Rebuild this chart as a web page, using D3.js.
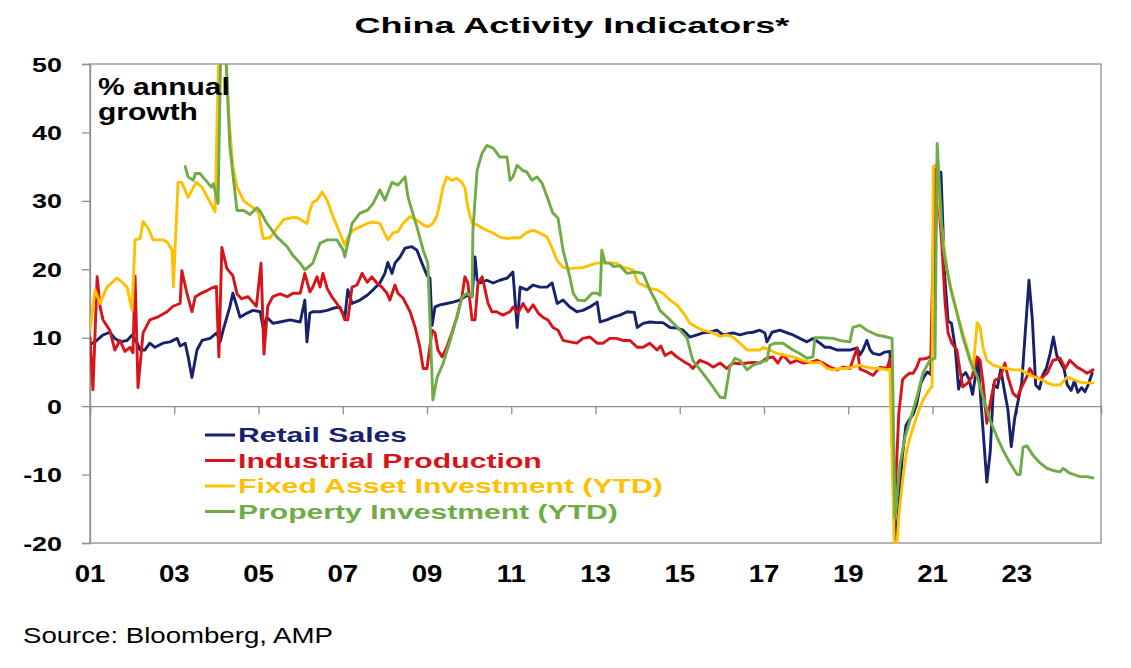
<!DOCTYPE html>
<html>
<head>
<meta charset="utf-8">
<script src="https://cdn.jsdelivr.net/npm/d3@7"></script>
<style>
  html, body { margin: 0; padding: 0; background: #ffffff; }
  svg { display: block; }
  text { font-family: "Liberation Sans", Arial, sans-serif; }
</style>
</head>
<body>
<svg id="chart" width="1131" height="668"></svg>
<script>
// ---------- DATA (decimal year, % annual growth) ----------
const seriesNames = ["Retail Sales", "Industrial Production", "Fixed Asset Investment (YTD)", "Property Investment (YTD)"];
const yTickValues = [-20, -10, 0, 10, 20, 30, 40, 50];
const yTickLabels = ["-20", "-10", "0", "10", "20", "30", "40", "50"];
const xTickYears = [2001, 2003, 2005, 2007, 2009, 2011, 2013, 2015, 2017, 2019, 2021, 2023];
const xTickLabels = ["01", "03", "05", "07", "09", "11", "13", "15", "17", "19", "21", "23"];

const retailSales = [
[2001.00,9.0],[2001.12,9.4],[2001.31,10.4],[2001.47,10.8],[2001.59,9.9],[2001.71,9.4],[2001.88,9.6],[2002.00,10.4],[2002.12,9.2],[2002.19,8.2],[2002.30,8.2],[2002.42,9.2],[2002.54,8.6],[2002.73,9.2],[2002.90,9.4],[2003.07,9.9],[2003.14,8.8],[2003.26,9.2],[2003.33,7.2],[2003.42,4.2],[2003.54,8.2],[2003.66,9.6],[2003.85,9.9],[2004.01,10.7],[2004.09,9.4],[2004.16,11.1],[2004.32,14.5],[2004.39,16.5],[2004.49,14.5],[2004.56,13.0],[2004.73,13.6],[2004.87,14.0],[2005.04,13.8],[2005.11,11.5],[2005.20,13.0],[2005.34,12.1],[2005.51,12.3],[2005.75,12.6],[2005.99,12.3],
[2006.10,15.5],[2006.15,9.4],[2006.22,13.6],[2006.29,13.8],[2006.46,13.8],[2006.63,14.0],[2006.77,14.3],[2006.93,14.5],[2007.05,12.9],[2007.12,17.0],[2007.22,15.0],[2007.41,15.5],[2007.58,16.2],[2007.72,17.0],[2007.88,18.0],[2008.00,19.4],[2008.07,21.0],[2008.17,19.4],[2008.24,20.9],[2008.36,21.8],[2008.48,23.1],[2008.64,23.3],[2008.76,22.8],[2008.88,20.9],[2009.00,19.1],[2009.07,18.7],[2009.12,11.8],[2009.19,14.5],[2009.31,14.8],[2009.47,15.0],[2009.62,15.2],[2009.78,15.5],[2009.95,16.2],[2010.07,16.0],[2010.14,21.8],[2010.19,18.4],[2010.26,18.0],[2010.42,18.4],[2010.57,18.0],[2010.73,18.4],[2010.90,18.7],[2011.04,19.6],[2011.14,11.5],[2011.21,17.4],[2011.37,17.0],[2011.52,17.7],[2011.68,17.4],[2011.85,17.4],[2011.97,18.0],[2012.09,15.0],[2012.23,15.5],[2012.39,14.5],[2012.56,13.8],[2012.70,14.0],[2012.87,14.5],[2013.04,15.2],[2013.11,12.3],[2013.27,12.6],[2013.42,13.0],[2013.58,13.3],[2013.75,13.8],[2013.92,13.7],[2013.99,11.5],[2014.13,12.1],[2014.29,12.3],[2014.46,12.2],[2014.60,12.2],[2014.77,11.5],[2014.93,11.4],[2015.08,11.1],[2015.24,10.1],[2015.41,10.4],[2015.55,10.7],[2015.72,10.8],[2015.88,11.1],[2016.03,10.4],[2016.26,10.7],[2016.43,10.4],[2016.60,10.7],[2016.74,10.8],[2016.90,11.1],[2017.02,10.7],[2017.07,9.4],[2017.19,10.8],[2017.38,11.1],[2017.55,10.7],[2017.69,10.4],[2017.85,9.9],[2018.02,9.4],[2018.16,9.9],[2018.33,9.2],[2018.45,8.6],[2018.57,8.6],[2018.73,8.2],[2018.88,8.2],[2019.04,8.2],[2019.21,8.5],[2019.28,7.5],[2019.35,8.2],[2019.44,9.6],[2019.52,8.2],[2019.59,7.7],[2019.75,7.5],[2019.87,7.9],[2019.99,8.0],
[2020.11,-20.5],[2020.19,-15.8],[2020.28,-7.5],[2020.37,-2.8],[2020.47,-1.8],[2020.55,-1.1],[2020.63,0.5],[2020.72,3.3],[2020.80,4.3],[2020.88,5.0],[2020.96,4.6],[2021.12,33.8],[2021.20,34.2],[2021.29,19.0],[2021.37,12.4],[2021.45,12.1],[2021.54,8.5],[2021.62,2.5],[2021.70,4.4],[2021.79,4.9],[2021.87,3.9],[2021.95,1.7],[2022.08,6.7],[2022.20,-3.5],[2022.29,-11.1],[2022.37,-6.7],[2022.45,3.1],[2022.54,2.7],[2022.62,5.4],[2022.70,2.5],[2022.79,-0.5],[2022.87,-5.9],[2022.95,-1.8],[2023.12,3.5],[2023.20,10.6],[2023.29,18.4],[2023.37,12.7],[2023.45,3.1],[2023.54,2.5],[2023.62,4.6],[2023.70,5.5],[2023.79,7.6],[2023.87,10.1],[2023.95,7.4],[2024.12,5.5],[2024.20,3.1],[2024.29,2.3],[2024.37,3.7],[2024.45,2.0],[2024.54,2.7],[2024.62,2.1],[2024.70,3.2],[2024.79,4.8]
];

const industrialProduction = [
[2001.00,10.0],[2001.07,2.4],[2001.17,18.9],[2001.24,14.5],[2001.31,12.6],[2001.47,11.1],[2001.59,8.2],[2001.71,9.6],[2001.83,8.0],[2001.95,8.6],[2002.02,7.8],[2002.07,19.0],[2002.14,2.7],[2002.26,10.7],[2002.42,12.6],[2002.60,13.0],[2002.83,13.8],[2002.97,14.6],[2003.14,15.0],[2003.18,19.8],[2003.30,16.5],[2003.42,13.8],[2003.50,16.0],[2003.61,16.4],[2003.75,16.8],[2003.90,17.3],[2004.00,17.5],[2004.06,7.2],[2004.13,23.2],[2004.25,20.1],[2004.39,19.1],[2004.49,16.4],[2004.60,15.7],[2004.75,16.0],[2004.95,14.6],[2005.06,20.9],[2005.13,7.6],[2005.22,14.6],[2005.34,16.0],[2005.51,16.4],[2005.68,16.0],[2005.82,16.5],[2005.99,16.5],
[2006.10,19.4],[2006.22,16.7],[2006.29,17.4],[2006.39,18.9],[2006.46,17.4],[2006.53,19.4],[2006.63,17.2],[2006.74,16.0],[2006.86,15.0],[2006.98,13.8],[2007.05,12.6],[2007.12,12.6],[2007.22,17.4],[2007.34,17.7],[2007.46,19.4],[2007.58,18.1],[2007.69,18.9],[2007.81,18.0],[2007.93,17.4],[2008.05,16.5],[2008.12,15.5],[2008.24,17.7],[2008.31,16.5],[2008.43,15.8],[2008.60,13.8],[2008.72,11.5],[2008.83,8.6],[2008.91,5.5],[2009.00,5.5],[2009.12,11.1],[2009.19,10.7],[2009.26,8.2],[2009.36,7.2],[2009.47,8.6],[2009.59,10.7],[2009.71,13.0],[2009.83,16.0],[2009.90,18.9],[2009.97,18.0],[2010.07,12.6],[2010.14,12.6],[2010.21,18.0],[2010.31,18.9],[2010.38,17.0],[2010.45,15.0],[2010.54,13.8],[2010.65,13.8],[2010.80,13.3],[2010.97,13.8],[2011.04,14.5],[2011.16,13.6],[2011.28,15.0],[2011.40,13.8],[2011.52,14.8],[2011.64,13.6],[2011.75,13.0],[2011.87,12.6],[2011.99,11.5],[2012.11,11.1],[2012.23,9.6],[2012.39,9.4],[2012.56,9.2],[2012.70,9.9],[2012.87,10.1],[2013.04,9.2],[2013.18,9.2],[2013.34,9.9],[2013.50,9.9],[2013.65,9.6],[2013.82,9.6],[2013.99,8.6],[2014.13,8.6],[2014.29,9.2],[2014.46,8.2],[2014.55,8.8],[2014.65,7.4],[2014.80,7.9],[2014.93,7.2],[2015.10,6.5],[2015.24,6.0],[2015.31,5.5],[2015.48,6.7],[2015.65,6.3],[2015.79,5.7],[2015.96,6.3],[2016.12,5.5],[2016.26,6.3],[2016.43,6.2],[2016.60,6.3],[2016.74,6.4],[2016.90,6.3],[2017.07,7.0],[2017.21,7.2],[2017.33,6.3],[2017.45,7.5],[2017.62,6.3],[2017.78,6.7],[2017.93,6.3],[2018.09,6.4],[2018.26,6.7],[2018.40,6.3],[2018.57,5.7],[2018.73,5.3],[2018.88,5.7],[2019.04,5.5],[2019.21,8.5],[2019.28,5.4],[2019.44,5.0],[2019.59,4.5],[2019.75,5.7],[2019.92,5.5],[2019.99,6.9],
[2020.11,-13.5],[2020.20,-1.1],[2020.29,3.9],[2020.37,4.4],[2020.45,4.8],[2020.54,4.8],[2020.62,5.6],[2020.70,6.9],[2020.79,6.9],[2020.87,7.0],[2020.96,7.3],[2021.06,35.1],[2021.18,27.2],[2021.23,22.8],[2021.30,15.0],[2021.37,10.7],[2021.46,9.2],[2021.58,8.2],[2021.65,5.3],[2021.72,2.8],[2021.84,3.4],[2021.94,4.3],[2022.06,7.2],[2022.13,6.7],[2022.20,3.4],[2022.29,-2.5],[2022.37,0.4],[2022.48,3.8],[2022.60,4.1],[2022.72,6.3],[2022.79,4.3],[2022.91,1.9],[2023.01,1.3],[2023.12,2.8],[2023.24,4.3],[2023.31,5.5],[2023.43,4.3],[2023.55,4.0],[2023.72,4.8],[2023.86,6.7],[2024.03,7.0],[2024.15,5.5],[2024.26,6.7],[2024.43,5.7],[2024.55,5.3],[2024.67,4.8],[2024.81,5.3]
];

const fixedAssetInvestment = [
[2001.00,11.0],[2001.12,17.0],[2001.24,15.0],[2001.40,17.4],[2001.64,18.7],[2001.71,18.4],[2001.88,17.4],[2002.00,14.0],[2002.07,24.3],[2002.19,24.5],[2002.26,27.0],[2002.38,26.0],[2002.50,24.3],[2002.73,24.3],[2002.83,24.0],[2002.95,22.8],[2002.98,17.4],[2003.09,32.7],[2003.18,32.7],[2003.33,30.5],[2003.52,32.7],[2003.66,32.0],[2003.78,30.6],[2003.97,28.4],[2004.06,53.0],[2004.22,52.0],[2004.30,42.0],[2004.39,35.0],[2004.49,32.0],[2004.65,30.0],[2004.87,29.0],[2005.00,28.3],[2005.11,24.5],[2005.27,24.6],[2005.44,26.0],[2005.60,27.3],[2005.75,27.5],[2005.90,27.6],[2006.15,26.7],[2006.22,28.6],[2006.29,29.8],[2006.39,30.1],[2006.51,31.3],[2006.63,30.1],[2006.77,27.7],[2006.93,25.3],[2007.05,23.5],[2007.12,24.7],[2007.24,25.7],[2007.41,26.2],[2007.58,26.7],[2007.72,26.9],[2007.88,26.7],[2007.96,25.7],[2008.07,24.3],[2008.19,25.3],[2008.31,25.5],[2008.43,26.7],[2008.60,27.7],[2008.76,27.2],[2008.91,26.5],[2009.02,26.2],[2009.14,26.7],[2009.24,27.9],[2009.31,29.8],[2009.38,32.0],[2009.47,33.5],[2009.59,33.0],[2009.71,33.3],[2009.83,32.7],[2009.90,31.9],[2009.97,29.1],[2010.07,26.7],[2010.19,26.5],[2010.26,26.2],[2010.42,25.7],[2010.57,25.3],[2010.73,24.7],[2010.90,24.5],[2011.04,24.6],[2011.21,24.6],[2011.37,25.4],[2011.52,25.7],[2011.68,25.3],[2011.85,24.7],[2011.92,23.8],[2011.99,22.8],[2012.09,21.3],[2012.23,20.3],[2012.39,20.1],[2012.56,20.2],[2012.70,20.2],[2012.87,20.6],[2013.04,20.9],[2013.18,21.0],[2013.34,20.9],[2013.50,20.9],[2013.65,20.3],[2013.89,19.9],[2014.01,18.0],[2014.13,17.7],[2014.29,17.2],[2014.46,17.0],[2014.60,16.5],[2014.77,15.5],[2014.93,14.8],[2015.10,13.5],[2015.24,12.1],[2015.41,11.5],[2015.55,11.1],[2015.79,10.7],[2015.96,10.2],[2016.12,10.4],[2016.26,10.1],[2016.43,9.2],[2016.60,8.2],[2016.90,8.2],[2016.98,8.6],[2017.14,8.2],[2017.31,7.7],[2017.45,7.5],[2017.69,7.2],[2017.93,6.7],[2018.16,6.3],[2018.33,6.4],[2018.50,5.5],[2018.64,5.3],[2018.80,5.5],[2018.97,5.5],[2019.11,5.7],[2019.28,6.0],[2019.44,5.7],[2019.59,5.5],[2019.75,5.5],[2019.92,5.3],[2019.99,5.4],
[2020.11,-24.5],[2020.20,-16.1],[2020.30,-10.3],[2020.39,-6.4],[2020.47,-4.5],[2020.54,-3.1],[2020.62,-1.6],[2020.70,-0.2],[2020.80,1.2],[2020.87,1.9],[2020.99,2.9],[2021.02,35.0],[2021.11,35.0],[2021.18,28.2],[2021.34,19.9],[2021.49,15.9],[2021.65,12.1],[2021.82,8.6],[2021.96,5.3],[2022.06,12.2],[2022.13,11.5],[2022.20,8.6],[2022.29,6.7],[2022.44,6.0],[2022.60,5.7],[2022.77,5.5],[2022.91,5.3],[2023.08,5.3],[2023.24,4.8],[2023.39,4.3],[2023.55,4.0],[2023.72,3.4],[2023.86,3.1],[2024.03,3.1],[2024.19,4.2],[2024.31,4.0],[2024.50,3.5],[2024.67,3.4],[2024.81,3.4]
];

const propertyInvestment = [
[2003.26,35.0],[2003.33,33.5],[2003.45,33.0],[2003.50,34.0],[2003.61,34.0],[2003.75,33.0],[2003.88,32.0],[2003.93,32.5],[2004.04,29.6],[2004.12,58.0],[2004.22,52.0],[2004.32,38.0],[2004.39,34.0],[2004.49,28.6],[2004.65,28.6],[2004.80,28.0],[2004.96,29.0],[2005.04,28.5],[2005.20,26.7],[2005.44,24.7],[2005.51,24.3],[2005.68,23.3],[2005.82,22.0],[2005.99,20.9],[2006.10,19.9],[2006.29,20.9],[2006.46,23.8],[2006.63,24.3],[2006.86,24.3],[2007.01,22.8],[2007.05,21.8],[2007.22,26.7],[2007.41,28.2],[2007.58,28.6],[2007.72,29.6],[2007.88,31.6],[2008.00,30.1],[2008.17,32.7],[2008.31,32.3],[2008.48,33.5],[2008.55,30.5],[2008.76,26.2],[2008.91,22.8],[2009.02,20.9],[2009.14,0.9],[2009.24,4.2],[2009.38,6.2],[2009.55,9.6],[2009.71,13.0],[2009.83,15.9],[2009.95,16.5],[2010.07,16.0],[2010.09,25.7],[2010.19,34.5],[2010.31,37.0],[2010.42,38.1],[2010.57,37.7],[2010.73,36.4],[2010.90,36.4],[2010.97,33.0],[2011.04,33.5],[2011.14,35.2],[2011.26,34.5],[2011.37,34.2],[2011.49,33.0],[2011.61,33.5],[2011.73,32.6],[2011.85,30.6],[2011.99,28.2],[2012.11,27.5],[2012.23,22.8],[2012.39,18.9],[2012.47,16.5],[2012.58,15.5],[2012.75,15.4],[2012.92,16.5],[2013.04,16.5],[2013.11,16.2],[2013.15,22.8],[2013.23,20.9],[2013.34,20.9],[2013.42,20.4],[2013.58,20.5],[2013.75,19.4],[2013.94,19.6],[2014.13,19.4],[2014.29,17.0],[2014.46,15.0],[2014.53,14.0],[2014.77,12.6],[2015.01,11.1],[2015.17,10.0],[2015.31,6.7],[2015.55,4.8],[2015.79,2.8],[2015.96,1.3],[2016.07,1.2],[2016.19,5.7],[2016.31,7.0],[2016.43,6.7],[2016.60,5.3],[2016.74,6.0],[2016.90,6.4],[2017.07,6.7],[2017.14,8.9],[2017.26,9.2],[2017.45,9.2],[2017.69,8.2],[2017.85,7.7],[2018.02,7.0],[2018.16,7.2],[2018.21,10.0],[2018.40,10.0],[2018.64,9.9],[2018.80,9.6],[2019.04,9.4],[2019.11,11.5],[2019.28,11.8],[2019.44,11.1],[2019.68,10.4],[2019.92,10.1],[2020.04,9.9],
[2020.11,-16.3],[2020.23,-8.3],[2020.35,-4.5],[2020.47,-2.0],[2020.63,1.3],[2020.77,4.8],[2020.94,6.7],[2021.06,7.0],[2021.11,38.4],[2021.18,30.6],[2021.25,23.3],[2021.42,17.4],[2021.58,13.6],[2021.72,10.1],[2021.89,6.7],[2022.06,4.3],[2022.20,1.3],[2022.37,-2.1],[2022.53,-4.5],[2022.67,-6.4],[2022.84,-8.3],[2023.01,-10.0],[2023.08,-10.0],[2023.15,-6.0],[2023.24,-5.8],[2023.39,-7.2],[2023.55,-8.3],[2023.72,-9.1],[2023.86,-9.4],[2024.03,-9.6],[2024.10,-9.1],[2024.26,-9.8],[2024.50,-10.3],[2024.67,-10.3],[2024.81,-10.5]
];

const seriesColors = ["#16236B", "#D7141A", "#FFC000", "#6FAC46"];
const seriesData = [retailSales, industrialProduction, fixedAssetInvestment, propertyInvestment];

// ---------- LAYOUT ----------
const svg = d3.select("#chart");
const plotLeft = 90, plotRight = 1101, plotTop = 64, plotBottom = 543;
const x = d3.scaleLinear().domain([2001, 2025]).range([plotLeft, plotRight]);
const y = d3.scaleLinear().domain([-20, 50]).range([plotBottom, plotTop]);
const FONT = '"Liberation Sans", Arial, sans-serif';

// Horizontally widen text glyphs (the reference typeface is wide) by scaling around the anchor point
function widenText(g, px, py, str, opts, targetWidth) {
  const t = g.append("text")
    .attr("x", 0).attr("y", 0)
    .attr("font-family", FONT)
    .attr("font-size", opts.size)
    .attr("font-weight", opts.weight || "normal")
    .attr("fill", opts.fill || "#000")
    .attr("text-anchor", opts.anchor || "start")
    .text(str);
  const w = t.node().getComputedTextLength();
  const f = opts.factor ? opts.factor : targetWidth / w;
  t.attr("transform", `translate(${px},${py}) scale(${f},1)`);
  return t;
}

// Title
widenText(svg, 572, 33, "China Activity Indicators*", { size: 23, weight: "bold", anchor: "middle" }, 435);

// Clip
svg.append("clipPath").attr("id", "plotClip")
  .append("rect").attr("x", plotLeft).attr("y", plotTop).attr("width", plotRight - plotLeft).attr("height", plotBottom - plotTop);

const axisColor = "#8E8E8E";

// Frame
svg.append("rect").attr("x", plotLeft).attr("y", plotTop).attr("width", plotRight - plotLeft).attr("height", plotBottom - plotTop)
  .attr("fill", "none").attr("stroke", axisColor).attr("stroke-width", 1.3);

// Y axis (ticks outward); labels drawn widened
const yAxis = d3.axisLeft(y).tickValues(yTickValues).tickSize(8).tickFormat("");
const yG = svg.append("g").attr("transform", `translate(${plotLeft},0)`).call(yAxis);
yG.select(".domain").attr("stroke", axisColor).attr("stroke-width", 1.3);
yG.selectAll(".tick line").attr("stroke", axisColor).attr("stroke-width", 1.3);
yTickValues.forEach((v, i) => {
  widenText(svg, 62, y(v) + 7.5, yTickLabels[i], { size: 21, weight: "bold", anchor: "end", factor: 1.28 });
});

// X axis on zero line
const xAxis = d3.axisBottom(x).tickValues(xTickYears.concat([2025])).tickSize(8).tickFormat("");
const xG = svg.append("g").attr("transform", `translate(0,${y(0)})`).call(xAxis);
xG.select(".domain").attr("stroke", axisColor).attr("stroke-width", 1.3);
xG.selectAll(".tick line").attr("stroke", axisColor).attr("stroke-width", 1.3);
xTickYears.forEach((yr, i) => {
  widenText(svg, x(yr), 582, xTickLabels[i], { size: 23, weight: "bold", anchor: "middle", factor: 1.2 });
});

// Lines
const line = d3.line().x(d => x(d[0])).y(d => y(d[1]));
const linesG = svg.append("g").attr("clip-path", "url(#plotClip)");
seriesData.forEach((data, i) => {
  linesG.append("path").datum(data)
    .attr("d", line)
    .attr("fill", "none")
    .attr("stroke", seriesColors[i])
    .attr("stroke-width", 2.9)
    .attr("stroke-linejoin", "round")
    .attr("stroke-linecap", "round");
});

// "% annual growth" label
widenText(svg, 98, 95, "% annual", { size: 23, weight: "bold" }, 132);
widenText(svg, 98, 120, "growth", { size: 23, weight: "bold" }, 100);

// Legend
const legendWidths = [169, 304, 425, 380];
const legendBase = [442, 467.5, 493, 518.5];
seriesNames.forEach((name, i) => {
  svg.append("line")
    .attr("x1", 205).attr("x2", 235)
    .attr("y1", legendBase[i] - 7).attr("y2", legendBase[i] - 7)
    .attr("stroke", seriesColors[i]).attr("stroke-width", 3);
  widenText(svg, 238, legendBase[i], name, { size: 20.5, weight: "bold", fill: seriesColors[i] }, legendWidths[i]);
});

// Source
widenText(svg, 23, 643, "Source: Bloomberg, AMP", { size: 22 }, 310);
</script>
</body>
</html>
